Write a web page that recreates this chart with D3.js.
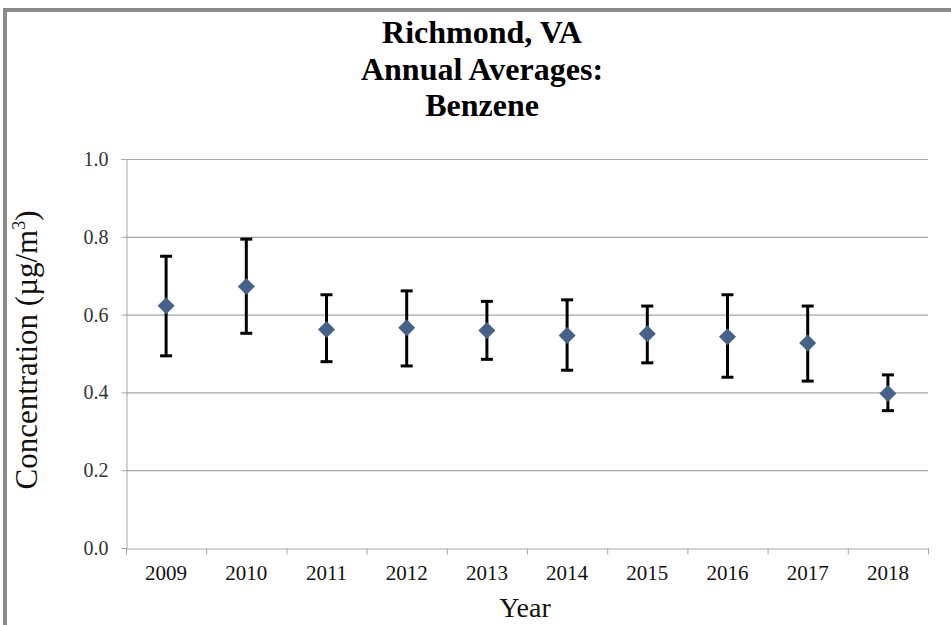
<!DOCTYPE html>
<html>
<head>
<meta charset="utf-8">
<script src="https://cdn.jsdelivr.net/npm/d3@7"></script>
<style>
  body { margin: 0; background: #fff; }
  text { font-family: "Liberation Serif", "Times New Roman", serif; }
</style>
</head>
<body>
<div id="chart"></div>
<script>
// data
var years = ["2009", "2010", "2011", "2012", "2013", "2014", "2015", "2016", "2017", "2018"];
var means = [0.623, 0.672, 0.562, 0.566, 0.559, 0.546, 0.551, 0.543, 0.527, 0.397];
var upper = [0.750, 0.794, 0.651, 0.661, 0.634, 0.638, 0.622, 0.651, 0.622, 0.445];
var lower = [0.494, 0.552, 0.479, 0.468, 0.485, 0.457, 0.476, 0.439, 0.429, 0.353];
var yTicks = [0, 0.2, 0.4, 0.6, 0.8, 1.0];

var width = 951, height = 625;
var margin = {top: 159, bottom: 77, left: 126, right: 23};

var svg = d3.select("#chart")
    .append("svg")
    .attr("width", width)
    .attr("height", height);

// outer frame
svg.append("rect")
    .attr("x", 5).attr("y", 10)
    .attr("width", width + 20).attr("height", height + 20)
    .attr("fill", "none")
    .attr("stroke", "#8a8a8a")
    .attr("stroke-width", 4);

var xScale = d3.scaleBand()
    .domain(years)
    .range([margin.left, width - margin.right]);

var yScale = d3.scaleLinear()
    .domain([0, 1])
    .range([height - margin.bottom, margin.top]);

// gridlines
svg.append("g")
    .selectAll("line")
    .data(yTicks.slice(1))
    .enter()
    .append("line")
    .attr("x1", margin.left)
    .attr("x2", width - margin.right)
    .attr("y1", function(d){ return yScale(d) + 0.5; })
    .attr("y2", function(d){ return yScale(d) + 0.5; })
    .attr("stroke", "#a6a6a6")
    .attr("stroke-width", 1.2);

// y axis
var yAxis = svg.append("g")
    .attr("transform", "translate(" + (margin.left + 0.5) + ",0)")
    .call(d3.axisLeft(yScale).tickValues(yTicks).tickFormat(d3.format(".1f")).tickSize(5).tickPadding(13));
yAxis.select(".domain").attr("stroke", "#a6a6a6");
yAxis.selectAll(".tick line").attr("stroke", "#a6a6a6");
yAxis.selectAll("text").attr("font-size", 20).attr("fill", "#333")
    .style("font-family", "Liberation Serif");

// x axis
var xAxis = svg.append("g")
    .attr("transform", "translate(0," + (yScale(0) + 0.5) + ")")
    .call(d3.axisBottom(xScale).tickSize(0).tickPadding(17));
xAxis.select(".domain").attr("stroke", "#a6a6a6");
xAxis.selectAll("text").attr("font-size", 21).attr("fill", "#111")
    .style("font-family", "Liberation Serif");

// tick marks between categories
var bounds = years.map(function(d){ return xScale(d); }).concat([xScale.range()[1]]);
xAxis.selectAll(".sep")
    .data(bounds)
    .enter()
    .append("line")
    .attr("class", "sep")
    .attr("x1", function(d){ return d + 0.5; })
    .attr("x2", function(d){ return d + 0.5; })
    .attr("y1", 0)
    .attr("y2", 6)
    .attr("stroke", "#a6a6a6");

// error bars
var cx = function(i){ return xScale(years[i]) + xScale.bandwidth() / 2; };
var bars = svg.append("g");
years.forEach(function(y, i){
    bars.append("line")
        .attr("x1", cx(i)).attr("x2", cx(i))
        .attr("y1", yScale(upper[i])).attr("y2", yScale(lower[i]))
        .attr("stroke", "#000").attr("stroke-width", 3);
    [upper[i], lower[i]].forEach(function(v){
        bars.append("line")
            .attr("x1", cx(i) - 6).attr("x2", cx(i) + 6)
            .attr("y1", yScale(v)).attr("y2", yScale(v))
            .attr("stroke", "#000").attr("stroke-width", 3);
    });
});

// diamonds
svg.append("g")
    .selectAll("path")
    .data(means)
    .enter()
    .append("path")
    .attr("d", "M0,-8.5L8.5,0L0,8.5L-8.5,0Z")
    .attr("transform", function(d, i){ return "translate(" + cx(i) + "," + yScale(d) + ")"; })
    .attr("fill", "#46628a");

// title
var title = ["Richmond, VA", "Annual Averages:", "Benzene"];
svg.append("g")
    .selectAll("text")
    .data(title)
    .enter()
    .append("text")
    .attr("x", 482)
    .attr("y", function(d, i){ return 43 + i * 36.5; })
    .attr("text-anchor", "middle")
    .attr("font-size", 32)
    .attr("font-weight", "bold")
    .attr("fill", "#000")
    .text(function(d){ return d; });

// axis titles
svg.append("text")
    .attr("x", 525)
    .attr("y", 617)
    .attr("text-anchor", "middle")
    .attr("font-size", 28)
    .attr("fill", "#111")
    .text("Year");

var yl = svg.append("text")
    .attr("transform", "translate(37," + 350 + ") rotate(-90)")
    .attr("text-anchor", "middle")
    .attr("font-size", 31)
    .attr("fill", "#111");
yl.append("tspan").text("Concentration (µg/m");
yl.append("tspan").attr("font-size", 18).attr("dy", -12).text("3");
yl.append("tspan").attr("dy", 12).text(")");
</script>
</body>
</html>
